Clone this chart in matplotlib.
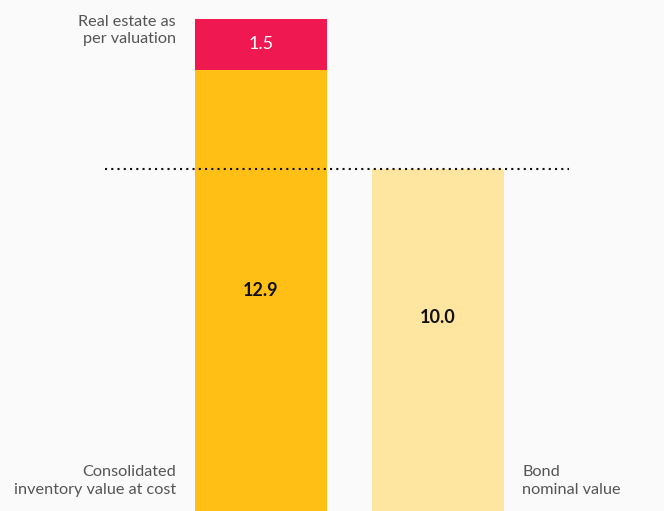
import matplotlib.pyplot as plt

# data
bars = ["Consolidated inventory value at cost", "Bond nominal value"]
base_values = [12.9, 10.0]
top_values = [1.5, 0]
bond_value = 10.0

plt.rcParams['font.family'] = ['Lato', 'DejaVu Sans']

fig = plt.figure(figsize=(6.64, 5.11), dpi=100, facecolor="#fafafa")
ax = fig.add_axes([0, 0, 1, 1])
ax.set_facecolor("#fafafa")

colors = ["#ffbf14", "#ffe6a0"]
x = [0, 1]
ax.bar(x, base_values, width=0.746, color=colors)
ax.bar(x[0], top_values[0], bottom=base_values[0], width=0.746, color="#f01851")

# dotted reference line at bond value
ax.plot([-0.881, 1.74], [bond_value, bond_value], color="#111111", lw=1.5,
        linestyle=(0, (1, 2)))

# value labels
ax.text(x[0], base_values[0] / 2, f"{base_values[0]:.1f}", ha="center", va="center",
        fontsize=13, fontweight="bold", color="#111111")
ax.text(x[1], 5.65, f"{base_values[1]:.1f}", ha="center", va="center",
        fontsize=13, fontweight="bold", color="#111111")
ax.text(x[0], base_values[0] + top_values[0] / 2, f"{top_values[0]:.1f}", ha="center",
        va="center", fontsize=13, color="white")

# side labels
grey = "#555555"
ax.text(-0.48, 14.05, "Real estate as\nper valuation", ha="right", va="center",
        fontsize=11.7, color=grey, linespacing=1.25)
ax.text(-0.48, 0.88, "Consolidated\ninventory value at cost", ha="right", va="center",
        fontsize=11.7, color=grey, linespacing=1.3)
ax.text(1.477, 0.88, "Bond\nnominal value", ha="left", va="center",
        fontsize=11.7, color=grey, linespacing=1.3)

ax.set_xlim(-1.4746, 2.2768)
ax.set_ylim(0, 14.95)
ax.axis("off")

fig.savefig("out.png", dpi=100, facecolor=fig.get_facecolor())
